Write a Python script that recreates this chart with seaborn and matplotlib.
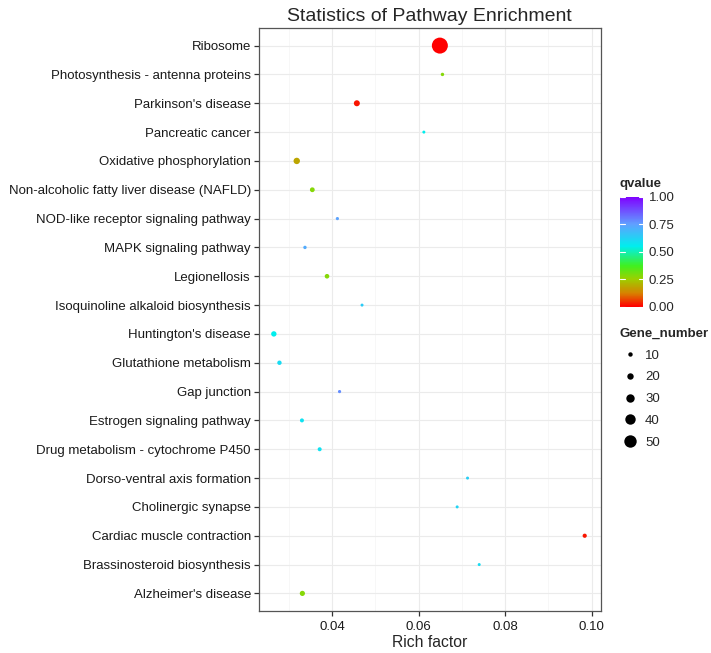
import pandas as pd
import matplotlib
matplotlib.use("Agg")
import matplotlib.pyplot as plt
from matplotlib.colors import LinearSegmentedColormap, PowerNorm, Normalize
from matplotlib.cm import ScalarMappable
from matplotlib.lines import Line2D
import seaborn as sns

# Pathways van boven naar beneden zoals in de figuur
pathways = [
    "Ribosome",
    "Photosynthesis - antenna proteins",
    "Parkinson's disease",
    "Pancreatic cancer",
    "Oxidative phosphorylation",
    "Non-alcoholic fatty liver disease (NAFLD)",
    "NOD-like receptor signaling pathway",
    "MAPK signaling pathway",
    "Legionellosis",
    "Isoquinoline alkaloid biosynthesis",
    "Huntington's disease",
    "Glutathione metabolism",
    "Gap junction",
    "Estrogen signaling pathway",
    "Drug metabolism - cytochrome P450",
    "Dorso-ventral axis formation",
    "Cholinergic synapse",
    "Cardiac muscle contraction",
    "Brassinosteroid biosynthesis",
    "Alzheimer's disease",
]
rich_factor = [0.0649, 0.0655, 0.0457, 0.0612, 0.0318, 0.0354, 0.0412, 0.0337,
               0.0388, 0.0469, 0.0265, 0.0278, 0.0417, 0.0330, 0.0371, 0.0713,
               0.0689, 0.0984, 0.0740, 0.0331]
qvalue = [0.00, 0.28, 0.02, 0.55, 0.18, 0.28, 0.74, 0.72, 0.28, 0.64,
          0.55, 0.60, 0.78, 0.58, 0.58, 0.63, 0.62, 0.02, 0.60, 0.28]
gene_number = [68, 5, 18, 3, 20, 12, 4, 5, 11, 3,
               15, 10, 4, 8, 8, 3, 3, 9, 3, 14]

size_breaks = [10, 20, 30, 40, 50]
q_ticks = [0.0, 0.25, 0.5, 0.75, 1.0]
x_ticks = [0.04, 0.06, 0.08, 0.10]
x_minor = [0.03, 0.05, 0.07, 0.09]

df = pd.DataFrame({
    "Pathway": pathways,
    "Rich factor": rich_factor,
    "qvalue": qvalue,
    "Gene_number": gene_number,
})

sns.set_theme(style="white")
plt.rcParams['font.family'] = ['Liberation Sans', 'DejaVu Sans']

# regenboog-kleurschaal zoals ggplot (rood = 0, paars = 1)
q_cmap = LinearSegmentedColormap.from_list("qv", [
    (0.00, "#FF0000"),
    (0.12, "#D88000"),
    (0.25, "#9CD000"),
    (0.37, "#40F020"),
    (0.55, "#00EEEE"),
    (0.75, "#60A0FF"),
    (1.00, "#8000FF"),
])
# diameter lineair in Gene_number
size_norm = PowerNorm(gamma=2, vmin=-12, vmax=68)
size_max = 132.7

fig = plt.figure(figsize=(7.11, 6.53), dpi=100)
ax = fig.add_axes([258.7 / 711, 1 - 610.7 / 653, 342 / 711, 582.4 / 653])

sns.scatterplot(
    data=df,
    x="Rich factor",
    y="Pathway",
    hue="qvalue",
    size="Gene_number",
    palette=q_cmap,
    hue_norm=(0, 1),
    sizes=(0, size_max),
    size_norm=size_norm,
    linewidth=0,
    legend=False,
    ax=ax,
    zorder=3,
)

ax.set_xlim(0.0230, 0.1021)
ax.set_ylim(len(pathways) - 0.4, -0.6)
ax.set_xticks(x_ticks)
ax.set_xticklabels([f"{t:.2f}" for t in x_ticks])
ax.set_xticks(x_minor, minor=True)
ax.grid(True, which="major", color="#ebebeb", linewidth=0.8, zorder=0)
ax.grid(True, which="minor", axis="x", color="#f4f4f4", linewidth=0.5, zorder=0)
ax.set_axisbelow(True)
for sp in ax.spines.values():
    sp.set_color("#555555")
    sp.set_linewidth(0.9)
ax.tick_params(axis="both", which="major", direction="out", length=3.6, width=0.9,
               color="#333333", labelsize=9.5, labelcolor="#1a1a1a",
               left=True, bottom=True)
ax.tick_params(axis="y", pad=2)
ax.tick_params(axis="x", pad=3.5)
ax.tick_params(axis="x", which="minor", length=0)
ax.set_ylabel("")
ax.set_xlabel("Rich factor", fontsize=11.3, labelpad=2)
ax.set_title("Statistics of Pathway Enrichment", fontsize=14, pad=5)

# kleurenbalk voor qvalue
cax = fig.add_axes([620 / 711, 1 - 306.7 / 653, 23.3 / 711, 110 / 653])
sm = ScalarMappable(norm=Normalize(0, 1), cmap=q_cmap)
cb = fig.colorbar(sm, cax=cax, ticks=q_ticks)
cb.ax.set_yticklabels([f"{t:.2f}" for t in q_ticks])
cb.outline.set_visible(False)
cb.ax.tick_params(length=0, labelsize=9.5, pad=4)
for t in q_ticks:
    cax.plot([0, 0.2], [t, t], color="white", lw=0.8)
    cax.plot([0.8, 1], [t, t], color="white", lw=0.8)
fig.text(620 / 711, 1 - 184 / 653, "qvalue", fontsize=9.5, fontweight="bold",
         ha="left", va="center")

# legenda voor Gene_number
handles = []
for b in size_breaks:
    ms = (size_max * size_norm(b)) ** 0.5
    handles.append(Line2D([], [], marker="o", linestyle="", color="black",
                          markersize=ms, markeredgewidth=0, label=str(b)))
leg = fig.legend(handles=handles, title="Gene_number", loc="upper left",
                 bbox_to_anchor=(620 / 711, 1 - 328 / 653), frameon=False,
                 fontsize=9.5, title_fontsize=9.5, alignment="left",
                 handlelength=1.5, handletextpad=0.4, borderpad=0,
                 borderaxespad=0, labelspacing=0.72)
leg.get_title().set_fontweight("bold")

fig.savefig("out.png", dpi=100)
